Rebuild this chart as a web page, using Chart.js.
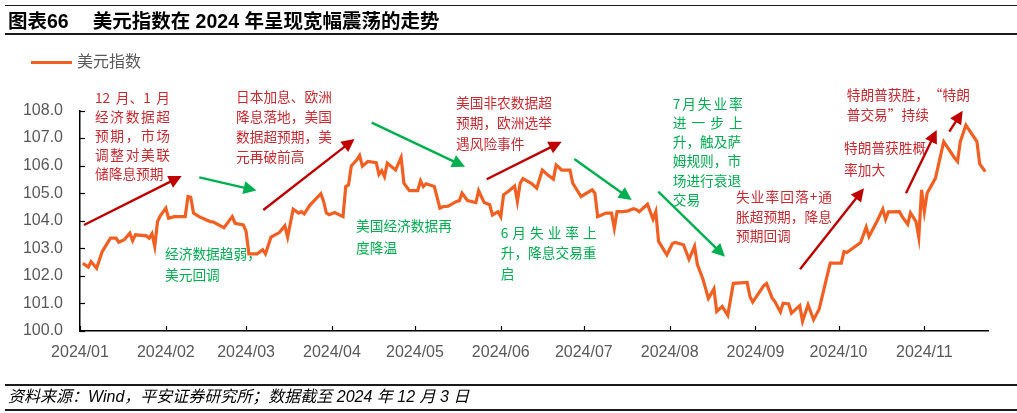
<!DOCTYPE html>
<html>
<head>
<meta charset="utf-8">
<script src="https://cdn.jsdelivr.net/npm/chart.js@4.4.1/dist/chart.umd.min.js"></script>
<style>
  html, body { margin: 0; padding: 0; background: #fff; }
  #wrap { position: relative; width: 1017px; height: 413px; overflow: hidden; font-family: "Liberation Sans", "Noto Sans CJK SC", sans-serif; }
  #chart { position: absolute; left: 0; top: 0; }
  .rule { position: absolute; left: 5px; right: 0; background: #1a1a1a; }
  #title { position: absolute; left: 8px; top: 8px; font-size: 19.5px; font-weight: bold; line-height: 26px; color: #000; white-space: nowrap; }
  #title .t2 { margin-left: 24px; }
  #legend { position: absolute; left: 31px; top: 51px; height: 22px; display: flex; align-items: center; }
  #legend .sw { width: 41px; height: 3px; background: #F15F22; margin-right: 5px; }
  #legend .lb { font-size: 16px; color: #595959; line-height: 22px; }
  #foot { position: absolute; left: 8px; top: 386px; font-size: 16px; font-style: italic; line-height: 22px; color: #000; white-space: nowrap; }
</style>
</head>
<body>
<div id="wrap">
  <canvas id="chart" width="1017" height="413"></canvas>
  <div class="rule" style="top:5px;height:1px;"></div>
  <div id="title"><span>图表66</span><span class="t2">美元指数在 2024 年呈现宽幅震荡的走势</span></div>
  <div class="rule" style="top:33px;height:2px;"></div>
  <div id="legend"><div class="sw"></div><div class="lb" id="legendLabel"></div></div>
  <div class="rule" style="top:384px;height:1.5px;"></div>
  <div id="foot">资料来源：Wind，平安证券研究所；数据截至 2024 年 12 月 3 日</div>
  <div class="rule" style="top:409px;height:1.5px;"></div>
</div>
<script>
// ---------------- data ----------------
const seriesName = '美元指数';
const dates = [
  '2024-01-02','2024-01-04','2024-01-05','2024-01-07','2024-01-09','2024-01-12','2024-01-14','2024-01-15','2024-01-17','2024-01-19',
  '2024-01-20','2024-01-21','2024-01-25','2024-01-26','2024-01-27','2024-01-28','2024-01-29','2024-01-30','2024-02-01','2024-02-02',
  '2024-02-04','2024-02-08','2024-02-09','2024-02-10','2024-02-11','2024-02-13','2024-02-17','2024-02-18','2024-02-22','2024-02-25',
  '2024-02-26','2024-02-29','2024-03-01','2024-03-02','2024-03-05','2024-03-07','2024-03-08','2024-03-10','2024-03-13','2024-03-15',
  '2024-03-16','2024-03-18','2024-03-20','2024-03-21','2024-03-22','2024-03-24','2024-03-28','2024-03-29','2024-03-30','2024-03-31',
  '2024-04-02','2024-04-05','2024-04-06','2024-04-07','2024-04-08','2024-04-10','2024-04-11','2024-04-12','2024-04-14','2024-04-17',
  '2024-04-18','2024-04-19','2024-04-20','2024-04-21','2024-04-24','2024-04-26','2024-04-27','2024-04-29','2024-05-02','2024-05-03',
  '2024-05-04','2024-05-05','2024-05-08','2024-05-10','2024-05-11','2024-05-13','2024-05-16','2024-05-17','2024-05-18','2024-05-20',
  '2024-05-23','2024-05-24','2024-05-26','2024-05-28','2024-05-29','2024-05-31','2024-06-01','2024-06-02','2024-06-04','2024-06-06',
  '2024-06-07','2024-06-08','2024-06-09','2024-06-12','2024-06-14','2024-06-16','2024-06-18','2024-06-20','2024-06-21','2024-06-23',
  '2024-06-26','2024-06-27','2024-06-30','2024-07-04','2024-07-05','2024-07-06','2024-07-09','2024-07-11','2024-07-12','2024-07-13',
  '2024-07-15','2024-07-17','2024-07-19','2024-07-20','2024-07-21','2024-07-24','2024-07-26','2024-07-27','2024-07-28','2024-07-31',
  '2024-08-02','2024-08-03','2024-08-06','2024-08-08','2024-08-10','2024-08-11','2024-08-13','2024-08-15','2024-08-17','2024-08-18',
  '2024-08-20','2024-08-22','2024-08-24','2024-08-29','2024-08-30','2024-08-31','2024-09-04','2024-09-05','2024-09-07','2024-09-08',
  '2024-09-10','2024-09-11','2024-09-13','2024-09-14','2024-09-17','2024-09-18','2024-09-20','2024-09-22','2024-09-24','2024-09-28',
  '2024-10-02','2024-10-03','2024-10-04','2024-10-09','2024-10-11','2024-10-12','2024-10-15','2024-10-17','2024-10-18','2024-10-19',
  '2024-10-23','2024-10-24','2024-10-26','2024-10-27','2024-10-29','2024-10-30','2024-10-31','2024-11-01','2024-11-02','2024-11-05',
  '2024-11-08','2024-11-12','2024-11-13','2024-11-14','2024-11-16','2024-11-20','2024-11-21','2024-11-23'
];
const dxy = [
  102.46,102.32,102.52,102.28,102.88,103.37,103.37,103.22,103.31,103.55,
  103.28,103.49,103.45,103.37,103.53,103.07,103.97,104.18,104.46,104.09,
  104.15,104.15,104.88,104.85,104.28,104.15,103.97,103.96,103.75,104.15,
  103.91,103.85,103.61,102.80,102.80,102.95,102.80,103.41,103.57,103.82,
  103.41,104.42,104.28,104.33,104.25,104.56,104.98,104.70,104.28,104.22,
  104.30,104.15,105.24,105.30,105.99,106.21,106.37,105.98,106.15,106.11,
  105.68,105.82,105.60,106.09,105.84,106.30,105.36,105.09,105.09,105.45,
  105.24,105.34,105.24,104.46,104.51,104.53,104.70,104.72,105.00,104.73,
  104.66,105.09,104.66,104.58,104.21,104.33,104.15,104.94,105.09,105.26,
  104.70,105.36,105.53,105.36,105.18,105.84,105.66,105.51,106.02,105.84,
  105.84,105.36,104.88,105.12,105.00,104.15,104.28,104.28,103.73,104.33,
  104.33,104.36,104.44,104.40,104.33,104.60,104.06,104.33,103.25,102.76,
  103.17,103.21,103.13,102.60,103.07,102.42,101.89,101.18,101.53,100.71,
  100.89,100.57,101.73,101.76,101.25,101.05,101.65,101.72,101.20,101.07,
  100.69,101.01,100.98,100.65,100.92,100.35,100.95,100.41,100.79,102.46,
  102.46,102.88,102.85,103.21,103.77,103.43,104.00,104.42,104.05,104.32,
  104.33,104.15,103.87,104.29,103.97,103.40,105.12,104.33,105.00,105.54,
  106.87,106.27,106.15,106.87,107.47,106.87,106.06,105.78
];
const monthLabels = ['2024/01','2024/02','2024/03','2024/04','2024/05','2024/06','2024/07','2024/08','2024/09','2024/10','2024/11'];
const axisStart = '2024-01-01';
const axisEnd = '2024-11-24';
const yMin = 100, yMax = 108, yStep = 1;

// ---------------- helpers ----------------
const DAY = 86400000;
function dayOf(s) {
  const p = s.split('-').map(Number);
  return (Date.UTC(p[0], p[1] - 1, p[2]) - Date.UTC(2024, 0, 1)) / DAY;
}
const points = dates.map((d, i) => ({ x: dayOf(d), y: dxy[i] }));
const monthPos = monthLabels.map(l => dayOf(l.replace('/', '-') + '-01'));

document.getElementById('legendLabel').textContent = seriesName;

// ---------------- annotations (overlay) ----------------
const RED_TXT = '#CC2A30', RED_ARR = '#C00000', GRN = '#00B050';
const notes = [
  { c: RED_TXT, x: 95, y: 97.3, dy: 19.2, w: 75, j: [1,1,1,1,0],
    lines: ['12 月、1 月', '经济数据超', '预期，市场', '调整对美联', '储降息预期'] },
  { c: GRN, x: 165, y: 254, dy: 21, w: 0, j: [],
    lines: ['经济数据趋弱，', '美元回调'] },
  { c: RED_TXT, x: 236, y: 96.7, dy: 20, w: 0, j: [],
    lines: ['日本加息、欧洲', '降息落地，美国', '数据超预期，美', '元再破前高'] },
  { c: GRN, x: 356, y: 225.7, dy: 22, w: 0, j: [],
    lines: ['美国经济数据再', '度降温'] },
  { c: RED_TXT, x: 456, y: 102.3, dy: 20.5, w: 0, j: [],
    lines: ['美国非农数据超', '预期，欧洲选举', '遇风险事件'] },
  { c: GRN, x: 500.7, y: 232.7, dy: 20.3, w: 96, j: [1,0,0],
    lines: ['6月失业率上', '升，降息交易重', '启'] },
  { c: GRN, x: 672.7, y: 103.3, dy: 19.3, w: 70, j: [1,1,0,0,0,0],
    lines: ['7月失业率', '进一步上', '升，触及萨', '姆规则，市', '场进行衰退', '交易'] },
  { c: RED_TXT, x: 736, y: 196.7, dy: 19.7, w: 96, j: [1,0,0],
    lines: ['失业率回落+通', '胀超预期，降息', '预期回调'] },
  { c: RED_TXT, x: 844, y: 147.3, dy: 22, w: 0, j: [],
    lines: ['特朗普获胜概', '率加大'] },
  { c: RED_TXT, x: 846.7, y: 95, dy: 20, w: 0, j: [],
    lines: ['特朗普获胜，“特朗', '普交易”持续'] }
];
const arrows = [
  { c: RED_ARR, a: [84, 225], b: [181.7, 176] },
  { c: GRN,     a: [199.3, 177.3], b: [256.5, 190.5] },
  { c: RED_ARR, a: [263.3, 210], b: [354.5, 139] },
  { c: GRN,     a: [371.7, 122.7], b: [465, 166.7] },
  { c: RED_ARR, a: [486.7, 179.3], b: [561.7, 141.7] },
  { c: GRN,     a: [574.3, 159], b: [631.7, 200] },
  { c: GRN,     a: [658.3, 191.7], b: [725, 256.7] },
  { c: RED_ARR, a: [800, 269.3], b: [864, 188.3] },
  { c: RED_ARR, a: [906, 193.3], b: [936.7, 130] },
  { c: RED_ARR, a: [949.3, 131.7], b: [962.7, 110.7] }
];

function drawTextLine(ctx, text, x, y, width, justify) {
  if (!justify) { ctx.fillText(text, x, y); return; }
  const tokens = text.includes(' ') ? text.split(' ') : Array.from(text);
  const ws = tokens.map(t => ctx.measureText(t).width);
  const total = ws.reduce((a, b) => a + b, 0);
  const gap = tokens.length > 1 ? (width - total) / (tokens.length - 1) : 0;
  let cx = x;
  tokens.forEach((t, i) => { ctx.fillText(t, cx, y); cx += ws[i] + gap; });
}
function drawArrow(ctx, a, b, color) {
  const ang = Math.atan2(b[1] - a[1], b[0] - a[0]);
  const hl = 13, hw = 6.5;
  const bx = b[0] - hl * Math.cos(ang), by = b[1] - hl * Math.sin(ang);
  ctx.strokeStyle = color; ctx.lineWidth = 2.4; ctx.lineCap = 'butt';
  ctx.beginPath(); ctx.moveTo(a[0], a[1]); ctx.lineTo(bx + Math.cos(ang), by + Math.sin(ang)); ctx.stroke();
  ctx.fillStyle = color;
  ctx.beginPath();
  ctx.moveTo(b[0], b[1]);
  ctx.lineTo(bx + hw * Math.sin(ang), by - hw * Math.cos(ang));
  ctx.lineTo(bx - hw * Math.sin(ang), by + hw * Math.cos(ang));
  ctx.closePath(); ctx.fill();
}

const overlayPlugin = {
  id: 'overlay',
  beforeDatasetsDraw(chart) {
    const ctx = chart.ctx;
    ctx.save();
    ctx.font = '13.7px "Noto Sans CJK SC", sans-serif';
    ctx.textBaseline = 'middle';
    ctx.textAlign = 'left';
    notes.forEach(n => {
      ctx.fillStyle = n.c;
      n.lines.forEach((ln, i) => drawTextLine(ctx, ln, n.x, n.y + i * n.dy, n.w, !!n.j[i]));
    });
    arrows.forEach(ar => drawArrow(ctx, ar.a, ar.b, ar.c));
    ctx.restore();
  },
  afterDraw(chart) {
    const ctx = chart.ctx;
    const { left, bottom } = chart.chartArea;
    const xs = chart.scales.x, ys = chart.scales.y;
    ctx.save();
    ctx.strokeStyle = '#000'; ctx.lineWidth = 1.2;
    ys.ticks.forEach(t => {
      const y = Math.round(ys.getPixelForValue(t.value)) + 0.5;
      ctx.beginPath(); ctx.moveTo(left, y); ctx.lineTo(left + 5, y); ctx.stroke();
    });
    xs.ticks.forEach(t => {
      const x = Math.round(xs.getPixelForValue(t.value)) + 0.5;
      ctx.beginPath(); ctx.moveTo(x, bottom); ctx.lineTo(x, bottom - 5); ctx.stroke();
    });
    ctx.restore();
  }
};

new Chart(document.getElementById('chart'), {
  type: 'line',
  data: {
    datasets: [{
      label: seriesName,
      data: points,
      borderColor: '#F15F22',
      borderWidth: 3.2,
      pointRadius: 0,
      tension: 0,
      fill: false
    }]
  },
  options: {
    responsive: false,
    animation: false,
    devicePixelRatio: 1,
    layout: { padding: { top: 110.5, right: 29, left: 0, bottom: 0 } },
    plugins: { legend: { display: false }, tooltip: { enabled: false } },
    scales: {
      x: {
        type: 'linear',
        min: dayOf(axisStart),
        max: dayOf(axisEnd),
        afterBuildTicks: s => { s.ticks = monthPos.map(v => ({ value: v })); },
        afterFit: s => { s.height = 82; },
        grid: { display: false, drawTicks: false },
        border: { display: true, color: '#000', width: 1.5 },
        ticks: {
          autoSkip: false, maxRotation: 0, padding: 12,
          color: '#595959', font: { family: '"Liberation Sans", Arial, sans-serif', size: 16 },
          callback: (v, i) => monthLabels[i]
        }
      },
      y: {
        min: yMin, max: yMax,
        afterFit: s => { s.width = 80; },
        grid: { display: false, drawTicks: false },
        border: { display: true, color: '#000', width: 1.5 },
        ticks: {
          stepSize: yStep, padding: 17,
          color: '#595959', font: { family: '"Liberation Sans", Arial, sans-serif', size: 16 },
          callback: v => Number(v).toFixed(1)
        }
      }
    }
  },
  plugins: [overlayPlugin]
});
</script>
</body>
</html>
